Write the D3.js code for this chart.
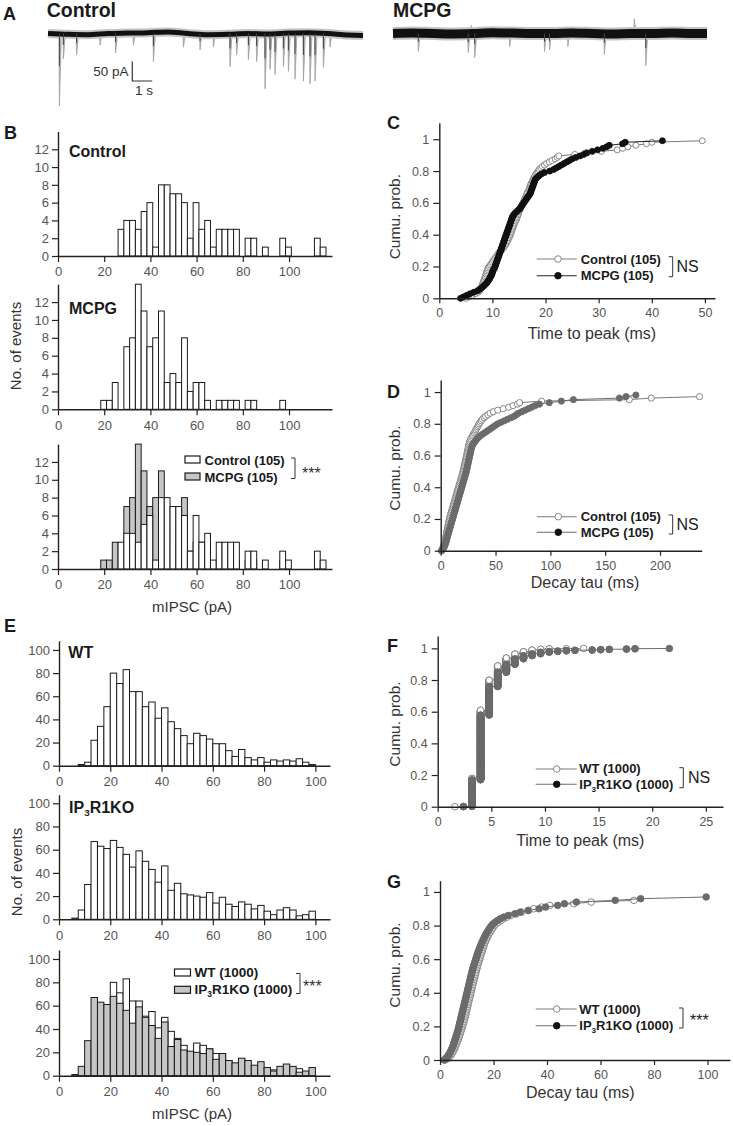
<!DOCTYPE html>
<html><head><meta charset="utf-8">
<script src="https://cdn.jsdelivr.net/npm/d3@7"></script>
<style>
body{margin:0;background:#fff;}
svg{display:block;}
</style></head><body>
<script>
// ================= DATA =================
// Panel A: example traces (baseline drift in pA at traceTimes, events: time s / amplitude pA, + = inward/down)
const traceTimes = [0,1,2,3,4,5,6,7,8,9,10,11,12,13,14,15,15.75];
const ctrlBaseline = [0,-2,-3,0,1,2,4,0,-3,-2,0,-1,1,2,0,-4,-5];
const mcpgBaseline = [0,1,0,-1,0,2,1,0,0,1,0,-1,0,0,1,0,0];
const ctrlEventTimes = [0.57,0.77,1.43,2.6,3.38,4.27,5.27,6.77,7.6,8.27,9.1,9.43,10.02,10.43,10.85,11.1,11.35,11.77,12.02,12.35,12.77,13.1,13.35,13.77,14.1];
const ctrlEventAmps  = [185,65,55,30,50,30,72,35,42,35,85,55,67,72,142,92,105,85,97,117,122,130,122,87,35];
const mcpgEventTimes = [1.27,3.77,3.93,4.1,5.85,7.6,7.85,8.77,10.6,12.1,12.68];
const mcpgEventAmps  = [46,49,-21,62,33,46,42,33,54,-38,83];

// Panel B: mIPSC amplitude histograms (bin left edges, pA; bin width 2.5)
const binEdgesB = [18.5,21,23.5,26,28.5,31,33.5,36,38.5,41,43.5,46,48.5,51,53.5,56,58.5,61,63.5,66,68.5,71,73.5,76,78.5,81,83.5,86,88.5,91,93.5,96,98.5,101,103.5,106,108.5,111,113.5];
const binWidthB = 2.5;
const controlCountsB = [0,0,0,3,4,4,3,5,6,1,8,8,7,7,6,2,6,3,4,1,3,3,3,3,0,2,2,0,1,0,0,2,1,0,0,0,0,2,1];
const mcpgCountsB    = [1,1,3,0,7,8,14,11,7,8,11,3,4,3,8,2,3,3,1,0,1,1,1,1,0,1,1,0,0,0,0,1,0,0,0,0,0,0,0];
const histTicksX = [0,20,40,60,80,100];
const histTicksYB = [0,2,4,6,8,10,12];

// Panel C: time to peak (ms), sorted events (n = 105 each)
const ttpControlC = [5.0,5.6,6.2,6.8,7.3, 7.6,7.8,7.9,8.0,8.1,8.2,
  8.3,8.4,8.5,8.6,8.7,8.8,8.9,9.0,9.1,9.2,9.4,
  9.6,9.8,10.0,10.2,10.4,10.6,10.8,11.0,11.2,11.5,
  11.8,12.0,12.2,12.4,12.6,12.7,12.9,13.0,13.1,13.3,13.4,
  13.5,13.6,13.7,13.8,13.9,14.0,14.1,14.2,14.4,14.5,
  14.6,14.7,14.8,14.9,15.0,15.1,15.3,15.4,15.5,15.6,15.8,
  15.9,16.0,16.1,16.3,16.4,16.5,16.6,16.8,16.9,17.0,
  17.1,17.2,17.3,17.5,17.6,17.7,17.9,18.0,18.2,18.4,18.6,
  18.8,19.1,19.4,19.8,20.2,20.7,21.2,21.8,22.2,22.5,
  25.5,27.5,30.5,33.5,34.5,35.5,37.0,39.0,40.0,49.5];
const ttpMcpgC = [4.0,4.6,5.2,5.8,6.5,7.2, 7.6,8.0,8.3,8.6,8.9,
  9.1,9.3,9.5,9.6,9.8,9.9,10.0,10.1,10.2,10.4,10.5,
  10.6,10.7,10.8,10.9,11.0,11.1,11.2,11.3,11.4,11.5,
  11.6,11.7,11.8,11.9,12.0,12.1,12.2,12.3,12.4,12.5,12.6,
  12.7,12.8,12.9,13.0,13.1,13.2,13.3,13.4,13.5,13.6,
  13.7,13.8,14.0,14.2,14.5,14.8,15.1,15.3,15.5,15.7,15.9,
  16.1,16.3,16.5,16.7,16.9,17.1,17.2,17.3,17.4,17.5,
  17.6,17.7,17.8,17.9,18.0,18.2,18.5,18.8,19.2,19.8,20.8,
  21.5,22.0,22.5,23.0,23.5,24.0,24.5,25.0,25.7,26.5,
  27.2,27.8,28.8,29.8,30.8,31.5,32.0,34.5,35.0,42.0];

// Panel D: decay tau (ms), sorted events (n = 105 each)
const tauControlD = [0.5,1.5,2,2.5,3, 3.3,3.6,4,4.3,4.6,5,
  5.2,5.4,5.7,6.0,6.2,6.5,6.8,7.0,7.3,7.6,7.9,
  8.3,8.7,9.1,9.5,9.9,10.3,10.7,11.1,11.5,11.9,
  12.3,12.7,13.1,13.5,13.9,14.3,14.7,15.1,15.5,15.9,16.3,
  16.7,17.1,17.5,17.9,18.3,18.7,19.1,19.5,19.9,20.3,
  20.6,20.9,21.2,21.5,21.8,22.1,22.4,22.7,23.0,23.3,23.6,
  23.9,24.2,24.5,24.8,25.1,25.4,25.7,26.0,26.4,26.8,
  27.5,28.3,29,29.8,30.6,31.4,32,32.8,33.5,34.3,35,
  36,37,38,39.5,41,43,45,48,52,57,
  62,66,70,72,92,172,192,236,280,320];
const tauMcpgD = [1,2,3,3.5,4, 4.5,5,5.3,5.6,6,6.4,
  6.8,7.2,7.6,8,8.4,8.8,9.2,9.6,10,10.4,10.8,
  11.2,11.6,12,12.4,12.8,13.2,13.6,14,14.4,14.8,
  15.2,15.6,16,16.4,16.8,17.2,17.6,18,18.4,18.8,19.2,
  19.6,20,20.4,20.8,21.2,21.6,22,22.4,22.8,23.2,
  23.5,23.8,24.1,24.4,24.7,25,25.3,25.6,25.9,26.2,26.5,
  26.8,27.1,27.4,27.7,28,28.5,29,30,31,32,
  33,34.5,36,38,40,42,44,46,48,50,52,
  55,58,61,64,67,69,71,74,77,80,
  83,86,90,99,110,121,163,169,178,300];

// Panel E: mIPSC amplitude histograms WT vs IP3R1KO (bin left edges, pA; width 2.5)
const binEdgesE = [5,7.5,10,12.5,15,17.5,20,22.5,25,27.5,30,32.5,35,37.5,40,42.5,45,47.5,50,52.5,55,57.5,60,62.5,65,67.5,70,72.5,75,77.5,80,82.5,85,87.5,90,92.5,95,97.5];
const binWidthE = 2.5;
const wtCountsE = [0,1,3,22,34,51,80,71,83,64,64,51,55,41,50,38,32,26,19,28,26,23,19,19,13,8,14,7,5,7,3,5,4,5,4,6,3,1];
const koCountsE = [1,8,30,67,63,61,68,62,56,45,59,50,43,32,46,25,31,22,21,20,19,23,14,19,13,11,15,13,9,12,7,4,8,10,8,3,4,7];
const histTicksYE = [0,20,40,60,80,100];

// Panel F: time to peak (ms), discrete sampled values with event counts (n = 1000 each)
const ttpValuesF = [1.6,2.4,3.2,4.0,4.8,5.6,6.4,7.2,8.0,8.8,9.6,10.4,11.2,12.0,12.8,13.6,14.4,15.2,16.0,17.6,18.4,21.6];
const wtCountsF = [1,1,178,430,190,90,50,25,15,10,5,3,0,1,0,1,0,0,0,0,0,0];
const koCountsF = [0,2,168,409,180,90,50,35,20,12,10,5,3,3,2,0,2,2,2,2,2,1];

// Panel G: decay tau (ms) at percentiles 0..100 (WT, IP3R1KO)
const tauWtG = [2.0,3.0,3.6,4.1,4.5,4.9,5.2,5.5,5.8,6.0,6.3,
  6.5,6.8,7.0,7.2,7.4,7.6,7.8,8.0,8.2,8.4,
  8.6,8.8,8.9,9.1,9.3,9.4,9.6,9.7,9.9,10.0,
  10.2,10.3,10.5,10.6,10.8,10.9,11.1,11.2,11.4,11.5,
  11.7,11.8,12.0,12.1,12.3,12.4,12.6,12.7,12.9,13.0,
  13.2,13.4,13.5,13.7,13.9,14.0,14.2,14.4,14.6,14.8,
  15.0,15.2,15.4,15.6,15.8,16.0,16.2,16.4,16.6,16.8,
  17.1,17.4,17.7,18.0,18.3,18.7,19.1,19.5,19.9,20.3,
  21.0,21.8,22.7,23.7,25.0,26.5,28.5,30.5,33.0,35.0,
  38.0,41.0,50.0,56.5,72.5,130,160,200,260,320];
const tauKoG = [1.5,2.2,2.8,3.2,3.6,3.9,4.2,4.5,4.8,5.0,5.2,
  5.4,5.6,5.8,6.0,6.2,6.4,6.6,6.8,6.95,7.1,
  7.25,7.4,7.55,7.7,7.85,8.0,8.15,8.3,8.45,8.6,
  8.75,8.9,9.05,9.2,9.35,9.5,9.65,9.8,9.95,10.1,
  10.25,10.4,10.55,10.7,10.85,11.0,11.15,11.3,11.45,11.6,
  11.75,11.9,12.05,12.2,12.4,12.6,12.8,13.0,13.2,13.4,
  13.6,13.8,14.0,14.2,14.45,14.7,14.95,15.2,15.45,15.7,
  16.0,16.3,16.6,16.9,17.2,17.6,18.0,18.4,18.8,19.3,
  19.9,20.6,21.5,22.5,23.8,25.5,28.0,30.0,33.0,37.0,
  39.5,44.0,46.5,51.0,65.5,75.0,99.5,130,180,240,300];

// ================= DRAWING =================
const FONT = "'Liberation Sans', Arial, Helvetica, sans-serif";
const svg = d3.select("body").append("svg").attr("width",733).attr("height",1126)
  .style("font-family",FONT);
const GRAY_BAR = "#c6c6c6";
const AX = "#222";

function txt(t,x,y,size,opts={}){
  const s = svg.append("text").attr("x",x).attr("y",y).attr("font-size",size)
    .attr("fill",opts.fill||"#1a1a1a").text(t);
  if(opts.bold) s.attr("font-weight","bold");
  if(opts.anchor) s.attr("text-anchor",opts.anchor);
  return s;
}
function rich(x,y,size,segs,bold){
  const s = svg.append("text").attr("x",x).attr("y",y).attr("font-size",size).attr("fill","#1a1a1a");
  if(bold) s.attr("font-weight","bold");
  let sub=false;
  segs.forEach(seg=>{
    const ts = s.append("tspan").text(seg.t);
    if(seg.sub){ ts.attr("font-size",size*0.62).attr("dy",size*0.22); sub=true; }
    else if(sub){ ts.attr("dy",-size*0.22); sub=false; }
  });
  return s;
}
function vlabel(t,x,y,size){
  svg.append("text").attr("transform",`translate(${x},${y}) rotate(-90)`)
    .attr("text-anchor","middle").attr("font-size",size).attr("fill","#333").text(t);
}
function styleAxis(sel,fs){
  sel.attr("font-family",FONT);
  sel.select(".domain").attr("stroke",AX).attr("stroke-width",1.4);
  sel.selectAll(".tick line").attr("stroke",AX).attr("stroke-width",1.2);
  sel.selectAll(".tick text").attr("fill","#555").attr("font-size",fs);
}

// ---------- Panel A ----------
function trace(x0,x1,yBase,baseline,evT,evA,core,halo){
  const t = d3.scaleLinear().domain([0,15.75]).range([x0,x1]);
  const a = d3.scaleLinear().domain([0,50]).range([0,19.5]);
  const g = svg.append("g");
  const evs = evT.map((d,i)=>({t:d,a:evA[i]}));
  g.selectAll("path.ev").data(evs).join("path")
    .attr("d",d=>`M${t(d.t-0.02)},${yBase} L${t(d.t)},${yBase+a(d.a)} L${t(d.t+0.1)},${yBase}`)
    .attr("fill","#b4b4b4").attr("stroke","#a0a0a0").attr("stroke-width",0.8);
  const line = d3.line().x((d,i)=>t(traceTimes[i])).y(d=>yBase-a(d)).curve(d3.curveMonotoneX);
  g.append("path").datum(baseline).attr("d",line).attr("fill","none")
    .attr("stroke","#c4c4c4").attr("stroke-width",halo);
  g.append("path").datum(baseline).attr("d",line).attr("fill","none")
    .attr("stroke","#111").attr("stroke-width",core);
  g.selectAll("path.evc").data(evs.filter(d=>Math.abs(d.a)>40)).join("path")
    .attr("d",d=>`M${t(d.t)},${yBase} L${t(d.t)},${yBase+a(d.a)*0.45}`)
    .attr("stroke","#444").attr("stroke-width",1);
  return {t,a};
}
txt("A",3,20,18,{bold:true});
txt("Control",46.7,16.7,19.5,{bold:true});
txt("MCPG",393,16.7,19.5,{bold:true});
const trA = trace(48,363,33.5,ctrlBaseline,ctrlEventTimes,ctrlEventAmps,5,9);
trace(393,707,33.5,mcpgBaseline,mcpgEventTimes,mcpgEventAmps,9,13);
{
  const bx=132.3, by=81;
  const len1s = trA.t(1)-trA.t(0), len50 = trA.a(50);
  svg.append("path").attr("d",`M${bx},${by-len50} V${by} H${bx+len1s}`)
    .attr("fill","none").attr("stroke","#333").attr("stroke-width",1.2);
  txt("50 pA",128.5,76,13.5,{anchor:"end",fill:"#333"});
  txt("1 s",135,95,13.5,{fill:"#333"});
}

// ---------- Histograms ----------
function hist(cfg){
  const x = d3.scaleLinear().domain(cfg.xDomain).range(cfg.xRange);
  const y = d3.scaleLinear().domain(cfg.yDomain).range(cfg.yRange);
  const g = svg.append("g");
  cfg.series.forEach(s=>{
    const bars = cfg.edges.map((e,i)=>({x0:e,c:s.counts[i]})).filter(d=>d.c>0);
    g.append("g").selectAll("rect").data(bars).join("rect")
      .attr("x",d=>x(d.x0)).attr("width",d=>x(d.x0+cfg.bw)-x(d.x0))
      .attr("y",d=>y(d.c)).attr("height",d=>y(0)-y(d.c))
      .attr("fill",s.fill).attr("stroke","#1a1a1a").attr("stroke-width",1);
  });
  const xa = g.append("g").attr("transform",`translate(0,${y(0)})`)
    .call(d3.axisBottom(x).tickValues(histTicksX).tickSize(6).tickPadding(5).tickSizeOuter(0));
  styleAxis(xa,13);
  const ya = g.append("g").attr("transform",`translate(${x(0)},0)`)
    .call(d3.axisLeft(y).tickValues(cfg.yTicks).tickSize(6).tickPadding(3).tickSizeOuter(0));
  styleAxis(ya,13);
  return {x,y};
}
txt("B",4,139.3,18,{bold:true});
hist({xDomain:[0,118.6],xRange:[58,332],yDomain:[0,14],yRange:[256,131.5],yTicks:histTicksYB,
  edges:binEdgesB,bw:binWidthB,series:[{counts:controlCountsB,fill:"#fff"}]});
txt("Control",69,156.7,16,{bold:true});
hist({xDomain:[0,118.6],xRange:[58,332],yDomain:[0,14],yRange:[409.3,284.2],yTicks:histTicksYB,
  edges:binEdgesB,bw:binWidthB,series:[{counts:mcpgCountsB,fill:"#fff"}]});
txt("MCPG",69,314.3,16,{bold:true});
hist({xDomain:[0,118.6],xRange:[58,332],yDomain:[0,14],yRange:[569,444.1],yTicks:histTicksYB,
  edges:binEdgesB,bw:binWidthB,series:[{counts:mcpgCountsB,fill:GRAY_BAR},{counts:controlCountsB,fill:"#fff"}]});
vlabel("No. of events",20.5,346,15);
txt("mIPSC (pA)",192,611.5,15,{anchor:"middle",fill:"#333"});
function histLegend(x,items,tx,size,br){
  items.forEach(it=>{
    svg.append("rect").attr("x",x).attr("y",it.ry).attr("width",it.w).attr("height",it.h)
      .attr("fill",it.fill).attr("stroke","#1a1a1a").attr("stroke-width",1.2);
    rich(tx,it.ty,size,it.segs,true);
  });
  svg.append("path").attr("d",`M${br.x-4},${br.y0} H${br.x} V${br.y1} H${br.x-4}`)
    .attr("fill","none").attr("stroke","#333").attr("stroke-width",1);
  txt("***",br.tx,br.ty,16,{fill:"#333"});
}
histLegend(185,[
  {ry:456,w:15,h:7,fill:"#fff",ty:465,segs:[{t:"Control (105)"}]},
  {ry:473,w:15,h:7,fill:GRAY_BAR,ty:481.5,segs:[{t:"MCPG (105)"}]}
],204.5,13,{x:295,y0:458,y1:478.5,tx:302,ty:479});

txt("E",4,631.7,18,{bold:true});
hist({xDomain:[0,105.7],xRange:[59,330],yDomain:[0,108],yRange:[765.7,640.7],yTicks:histTicksYE,
  edges:binEdgesE,bw:binWidthE,series:[{counts:wtCountsE,fill:"#fff"}]});
txt("WT",68.3,658.3,16,{bold:true});
hist({xDomain:[0,105.7],xRange:[59,330],yDomain:[0,107.5],yRange:[919.3,794.6],yTicks:histTicksYE,
  edges:binEdgesE,bw:binWidthE,series:[{counts:koCountsE,fill:"#fff"}]});
rich(69,812.7,16,[{t:"IP"},{t:"3",sub:true},{t:"R1KO"}],true);
hist({xDomain:[0,105.7],xRange:[59,330],yDomain:[0,107.7],yRange:[1075.7,950],yTicks:histTicksYE,
  edges:binEdgesE,bw:binWidthE,series:[{counts:wtCountsE,fill:"#fff"},{counts:koCountsE,fill:GRAY_BAR}]});
vlabel("No. of events",21.5,872,15);
txt("mIPSC (pA)",192,1119,15,{anchor:"middle",fill:"#333"});
histLegend(174.5,[
  {ry:969,w:16,h:7,fill:"#fff",ty:977,segs:[{t:"WT (1000)"}]},
  {ry:986.3,w:16,h:7,fill:GRAY_BAR,ty:994,segs:[{t:"IP"},{t:"3",sub:true},{t:"R1KO (1000)"}]}
],194.5,13.5,{x:300,y0:973.5,y1:993.5,tx:303,ty:992});

// ---------- Cumulative plots ----------
function cum(cfg){
  const x = d3.scaleLinear().domain(cfg.xDomain).range(cfg.xRange);
  const y = d3.scaleLinear().domain(cfg.yDomain).range(cfg.yRange);
  const g = svg.append("g");
  cfg.series.forEach(s=>{
    const pts = s.values.map((v,i)=>({v,p:i/s.n})).filter(d=>d.v<=cfg.xDomain[1]);
    g.append("path").datum(pts).attr("d",d3.line().x(d=>x(d.v)).y(d=>y(d.p)))
      .attr("fill","none").attr("stroke",s.line).attr("stroke-width",1);
    g.append("g").selectAll("circle").data(pts).join("circle")
      .attr("cx",d=>x(d.v)).attr("cy",d=>y(d.p)).attr("r",cfg.r)
      .attr("fill",s.fill).attr("stroke",s.stroke).attr("stroke-width",0.9);
  });
  const xa = g.append("g").attr("transform",`translate(0,${y(0)})`)
    .call(d3.axisBottom(x).tickValues(cfg.xTicks).tickSize(5).tickPadding(5).tickSizeOuter(0));
  styleAxis(xa,12.5);
  const ya = g.append("g").attr("transform",`translate(${x(0)},0)`)
    .call(d3.axisLeft(y).tickValues([0,0.2,0.4,0.6,0.8,1]).tickSize(6).tickPadding(4).tickSizeOuter(0)
      .tickFormat(d=> (d===0||d===1)? String(d) : d.toFixed(1)));
  styleAxis(ya,12.5);
  return {x,y};
}
function cumLegend(cfg){
  cfg.items.forEach(it=>{
    svg.append("line").attr("x1",cfg.x0).attr("x2",cfg.x1).attr("y1",it.y).attr("y2",it.y)
      .attr("stroke",it.line).attr("stroke-width",1.1);
    svg.append("circle").attr("cx",cfg.cx).attr("cy",it.y).attr("r",3.3)
      .attr("fill",it.fill).attr("stroke",it.stroke).attr("stroke-width",0.9);
    rich(cfg.tx,it.ty,13,it.segs,true);
  });
  const b = cfg.br;
  svg.append("path").attr("d",`M${b.x-4},${b.y0} H${b.x} V${b.y1} H${b.x-4}`)
    .attr("fill","none").attr("stroke","#333").attr("stroke-width",1);
  txt(b.mark,b.tx,b.ty,16,{fill:"#222"});
}
function expandCounts(vals,counts){
  const out=[];
  vals.forEach((v,i)=>{ for(let k=0;k<counts[i];k++) out.push(v); });
  return out;
}
const OPEN = {fill:"#fff",stroke:"#7a7a7a",line:"#7a7a7a"};
const DARK = {fill:"#111",stroke:"#111",line:"#222"};
const GRAYF = {fill:"#6b6b6b",stroke:"#6b6b6b",line:"#6b6b6b"};

// C
txt("C",387,129.3,18,{bold:true});
cum({xDomain:[0,51.9],xRange:[439.3,715],yDomain:[0,1.104],yRange:[298.3,122.7],r:3,
  xTicks:[0,10,20,30,40,50],
  series:[{values:ttpControlC,n:105,...OPEN},{values:ttpMcpgC,n:105,...DARK}]});
vlabel("Cumu. prob.",400,216.7,15.5);
txt("Time to peak (ms)",592,338.5,16,{anchor:"middle",fill:"#333"});
cumLegend({x0:536.7,x1:576.7,cx:558,tx:580.7,
  items:[{y:259,ty:263.5,...OPEN,segs:[{t:"Control (105)"}]},
         {y:275.7,ty:280,...DARK,segs:[{t:"MCPG (105)"}]}],
  br:{x:672.7,y0:256.7,y1:276.7,mark:"NS",tx:676.5,ty:271.7}});

// D
txt("D",387,397.7,18,{bold:true});
cum({xDomain:[0,238],xRange:[440.7,701.7],yDomain:[0,1.076],yRange:[550.7,380],r:3.1,
  xTicks:[0,50,100,150,200],
  series:[{values:tauControlD,n:105,...OPEN},{values:tauMcpgD,n:105,...GRAYF}]});
vlabel("Cumu. prob.",400,468,15.5);
txt("Decay tau (ms)",585,588,16,{anchor:"middle",fill:"#333"});
cumLegend({x0:536.7,x1:576.7,cx:558.3,tx:580.7,
  items:[{y:516.7,ty:521,...OPEN,segs:[{t:"Control (105)"}]},
         {y:532.3,ty:537,fill:"#111",stroke:"#111",line:"#6b6b6b",segs:[{t:"MCPG (105)"}]}],
  br:{x:672.7,y0:515,y1:534,mark:"NS",tx:676.5,ty:530}});

// F
txt("F",387,651.7,18,{bold:true});
cum({xDomain:[0,26.6],xRange:[437.7,723],yDomain:[0,1.078],yRange:[806.7,636],r:3.3,
  xTicks:[0,5,10,15,20,25],
  series:[{values:expandCounts(ttpValuesF,wtCountsF),n:1000,...OPEN},
          {values:expandCounts(ttpValuesF,koCountsF),n:1000,...GRAYF}]});
vlabel("Cumu. prob.",400,724,15.5);
txt("Time to peak (ms)",580.3,846,16,{anchor:"middle",fill:"#333"});
cumLegend({x0:535.7,x1:576.7,cx:556.7,tx:579.3,
  items:[{y:769,ty:773,...OPEN,segs:[{t:"WT (1000)"}]},
         {y:784.3,ty:789,fill:"#111",stroke:"#111",line:"#6b6b6b",segs:[{t:"IP"},{t:"3",sub:true},{t:"R1KO (1000)"}]}],
  br:{x:683.3,y0:767.7,y1:787.7,mark:"NS",tx:688,ty:783.3}});

// G
txt("G",387,888.3,18,{bold:true});
cum({xDomain:[0,108.4],xRange:[440,730],yDomain:[0,1.067],yRange:[1060,880.7],r:3.3,
  xTicks:[0,20,40,60,80,100],
  series:[{values:tauWtG,n:100,...OPEN},{values:tauKoG,n:100,...GRAYF}]});
vlabel("Cumu. prob.",400,965,15.5);
txt("Decay tau (ms)",580.3,1098,16,{anchor:"middle",fill:"#333"});
cumLegend({x0:535.7,x1:576.7,cx:556.7,tx:579.3,
  items:[{y:1009,ty:1013.5,...OPEN,segs:[{t:"WT (1000)"}]},
         {y:1025.7,ty:1030,fill:"#111",stroke:"#111",line:"#6b6b6b",segs:[{t:"IP"},{t:"3",sub:true},{t:"R1KO (1000)"}]}],
  br:{x:683,y0:1008,y1:1028,mark:"***",tx:690,ty:1025.5}});
</script></body></html>
